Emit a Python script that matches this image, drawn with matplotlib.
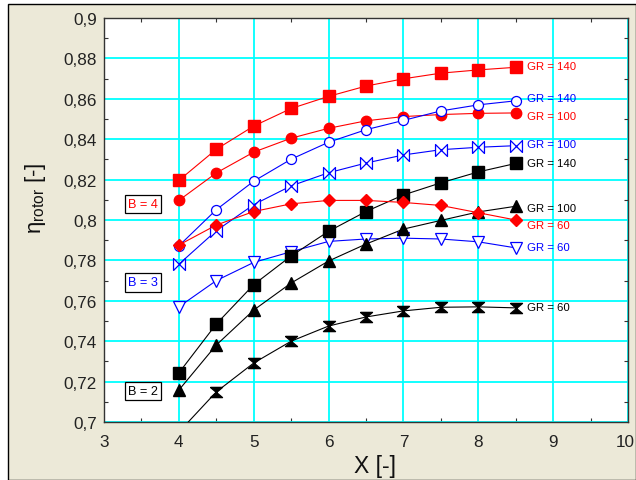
import matplotlib
matplotlib.use("Agg")
import matplotlib.pyplot as plt
import matplotlib.transforms as mtransforms
from matplotlib.patches import Rectangle
from matplotlib.ticker import MultipleLocator, FuncFormatter

plt.rcParams['font.family'] = ['Liberation Sans', 'DejaVu Sans']
plt.rcParams['mathtext.fontset'] = 'custom'
plt.rcParams['mathtext.rm'] = 'Liberation Sans'
plt.rcParams['mathtext.it'] = 'Liberation Sans'

# ---------------- data ----------------
x = [4.0, 4.5, 5.0, 5.5, 6.0, 6.5, 7.0, 7.5, 8.0, 8.5]

# B = 4 (red)
b4_gr140 = [0.8196, 0.8350, 0.8465, 0.8552, 0.8612, 0.8663, 0.8699, 0.8727, 0.8743, 0.8756]
b4_gr100 = [0.8097, 0.8233, 0.8336, 0.8405, 0.8454, 0.8491, 0.8512, 0.8522, 0.8528, 0.8530]
b4_gr60  = [0.7876, 0.7975, 0.8042, 0.8080, 0.8097, 0.8097, 0.8087, 0.8072, 0.8036, 0.8000]

# B = 3 (blue)
b3_gr140 = [0.7872, 0.8051, 0.8192, 0.8301, 0.8385, 0.8447, 0.8493, 0.8540, 0.8570, 0.8590]
b3_gr100 = [0.7781, 0.7947, 0.8076, 0.8169, 0.8234, 0.8282, 0.8322, 0.8348, 0.8360, 0.8368]
b3_gr60  = [0.7570, 0.7700, 0.7790, 0.7843, 0.7894, 0.7906, 0.7910, 0.7906, 0.7892, 0.7862]

# B = 2 (black)
b2_gr140 = [0.7243, 0.7485, 0.7680, 0.7822, 0.7944, 0.8042, 0.8124, 0.8184, 0.8238, 0.8280]
b2_gr100 = [0.7158, 0.7381, 0.7554, 0.7688, 0.7797, 0.7881, 0.7955, 0.7998, 0.8040, 0.8068]
b2_gr60  = [0.6950, 0.7149, 0.7292, 0.7400, 0.7475, 0.7520, 0.7550, 0.7568, 0.7570, 0.7565]

x_ticks = [3, 4, 5, 6, 7, 8, 9, 10]
y_ticks = [0.70, 0.72, 0.74, 0.76, 0.78, 0.80, 0.82, 0.84, 0.86, 0.88, 0.90]

gr_labels = ["GR = 140", "GR = 140", "GR = 100", "GR = 100", "GR = 140",
             "GR = 100", "GR = 60", "GR = 60", "GR = 60"]
gr_label_y = [0.8764, 0.8602, 0.8513, 0.8376, 0.8281, 0.8058, 0.7975, 0.7865, 0.7568]
gr_label_colors = ["red", "blue", "red", "blue", "black", "black", "red", "blue", "black"]

b_labels = ["B = 4", "B = 3", "B = 2"]
b_label_y = [0.8079, 0.7691, 0.7153]
b_label_colors = ["red", "blue", "black"]

# ---------------- figure ----------------
fig = plt.figure(figsize=(6.36, 4.81), dpi=100, facecolor='white')
bg = Rectangle((8 / 636, 0), 1 - 8 / 636, 1 - 5 / 481, transform=fig.transFigure,
               facecolor='#ECE9D8', edgecolor='black', linewidth=1.0, zorder=-10)
fig.patches.append(bg)

ax = fig.add_axes([104 / 636, 1 - 423 / 481, (628 - 104) / 636, (423 - 19) / 481])
ax.set_facecolor('white')

bowtie = [(-1, -1), (-1, 1), (1, -1), (1, 1), (-1, -1)]
hourglass = [(-1, 0.85), (1, 0.85), (-1, -0.85), (1, -0.85), (-1, 0.85)]

lw = 0.8
ax.plot(x, b4_gr140, color='red', lw=lw, marker='s', ms=9, mfc='red', mec='red', zorder=3)
ax.plot(x, b4_gr100, color='red', lw=lw, marker='o', ms=7.5, mfc='red', mec='red', zorder=3)
ax.plot(x, b4_gr60, color='red', lw=lw, marker='D', ms=6.3, mfc='red', mec='red', zorder=4)

ax.plot(x, b3_gr140, color='blue', lw=lw, marker='o', ms=7.2, mfc='white', mec='blue', mew=0.9, zorder=3)
ax.plot(x, b3_gr100, color='blue', lw=lw, marker=bowtie, ms=8.6, mfc='white', mec='blue', mew=0.9, zorder=3)
ax.plot(x, b3_gr60, color='blue', lw=lw, marker='v', ms=8.5, mfc='white', mec='blue', mew=0.9, zorder=3)

ax.plot(x, b2_gr140, color='black', lw=lw, marker='s', ms=9, mfc='black', mec='black', zorder=3)
ax.plot(x, b2_gr100, color='black', lw=lw, marker='^', ms=8.5, mfc='black', mec='black', zorder=3)
ax.plot(x, b2_gr60, color='black', lw=lw, marker=hourglass, ms=8.6, mfc='black', mec='black', zorder=3)

for lab, yy, c in zip(gr_labels, gr_label_y, gr_label_colors):
    ax.text(8.65, yy, lab, color=c, fontsize=8.2, ha='left', va='center', zorder=5)

for lab, yy, c in zip(b_labels, b_label_y, b_label_colors):
    ax.text(3.52, yy, lab, color=c, fontsize=9.2, ha='center', va='center', zorder=5,
            bbox=dict(boxstyle='square,pad=0.25', facecolor='white', edgecolor='black', linewidth=0.9))

ax.set_xlim(3, 10)
ax.set_ylim(0.7, 0.9)
ax.set_xticks(x_ticks)
ax.set_yticks(y_ticks)
ax.xaxis.set_major_formatter(FuncFormatter(lambda v, p: f"{v:g}"))
ax.yaxis.set_major_formatter(FuncFormatter(lambda v, p: f"{round(v, 2):g}".replace('.', ',')))
ax.xaxis.set_minor_locator(MultipleLocator(0.5))
ax.yaxis.set_minor_locator(MultipleLocator(0.01))
ax.tick_params(which='major', length=0, labelsize=12.3, labelcolor='#222222')
ax.tick_params(axis='x', which='major', pad=9)
ax.tick_params(axis='y', which='major', pad=5)
ax.tick_params(which='minor', direction='in', length=3, width=0.8, color='#333333',
               top=True, right=True, bottom=True, left=True)

ax.grid(True, which='major', color='#00FFFF', linewidth=1.3)
ax.set_axisbelow(True)
for s in ax.spines.values():
    s.set_color('#333333')
    s.set_linewidth(1.0)

# nudge the last x tick label so it stays inside the canvas
fig.canvas.draw()
last = ax.get_xticklabels()[-1]
last.set_transform(last.get_transform() + mtransforms.ScaledTranslation(-3 / 100, 0, fig.dpi_scale_trans))

fig.text(375 / 636, 1 - 466 / 481, "X [-]", fontsize=16.5, ha='center', va='center', color='#111111')
fig.text(35 / 636, 1 - 198 / 481, r"$\eta_{\mathrm{rotor}}$ [-]", fontsize=16, rotation=90,
         ha='center', va='center', color='#111111')

fig.savefig("out.png", dpi=100, facecolor=fig.get_facecolor())
